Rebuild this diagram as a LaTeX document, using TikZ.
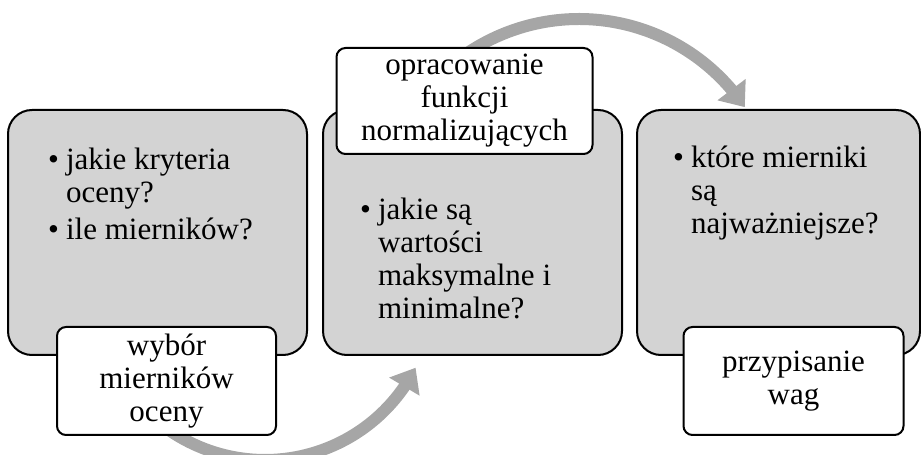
\documentclass[tikz,border=0pt]{standalone}
\usepackage{fontspec}
\setmainfont{Liberation Serif}
\usetikzlibrary{arrows.meta,bending,positioning,calc,backgrounds}
\definecolor{StageFill}{HTML}{D3D3D3}
\definecolor{LoopGray}{HTML}{A6A6A6}
\begin{document}
\begin{tikzpicture}[x=1pt,y=1pt,
    node distance=16pt,
    stagebox/.style={draw=black,line width=2pt,rounded corners=24pt,fill=StageFill,
      minimum width=299pt,minimum height=245pt,inner sep=0pt,outer sep=0pt},
    labelbox/.style={draw=black,line width=2pt,rounded corners=9pt,fill=white,
      minimum height=108pt,align=center,inner sep=0pt,outer sep=0pt,
      font=\fontsize{31}{33}\selectfont},
    bullets/.style={anchor=base west,inner sep=0pt,font=\fontsize{31}{33}\selectfont},
    loop arrow/.style={-{Triangle[width=34pt,length=22pt]},line width=12pt,draw=LoopGray}
  ]
  \useasboundingbox (0,0) rectangle (921,455);
  % three stages
  \node[stagebox] (wybor) at (157.5,222.5) {};
  \node[stagebox,right=16pt of wybor] (normy) {};
  \node[stagebox,minimum width=283pt,right=15pt of normy] (wagi) {};
  % questions inside the stages
  \node[bullets] (wyborpyt) at ($(wybor.north west)+(40,-60)$)
    {\begin{tabular}[t]{@{}l@{\hspace{7pt}}l@{}}\textbullet & jakie kryteria\\ & oceny?\\[4pt]
     \textbullet & ile mierników?\end{tabular}};
  \node[bullets] (normypyt) at ($(normy.north west)+(37,-110)$)
    {\begin{tabular}[t]{@{}l@{\hspace{7pt}}l@{}}\textbullet & jakie są\\ & wartości\\
     & maksymalne i\\ & minimalne?\end{tabular}};
  \node[bullets] (wagipyt) at ($(wagi.north west)+(36,-58)$)
    {\begin{tabular}[t]{@{}l@{\hspace{7pt}}l@{}}\textbullet & które mierniki\\ & są\\
     & najważniejsze?\end{tabular}};
  % stage labels
  \node[labelbox,minimum width=219pt,anchor=north] (wyborlab) at ($(wybor.south)+(9,28)$)
    {wybór\\mierników\\oceny};
  \node[labelbox,minimum width=256pt,minimum height=106pt,anchor=south] (normylab)
    at ($(normy.north)+(-8,-44)$) {opracowanie\\funkcji\\normalizujących};
  \node[labelbox,minimum width=220pt,anchor=north] (wagilab) at ($(wagi.south)+(15,28)$)
    {przypisanie\\wag};
  % circular arrows behind the boxes
  \begin{scope}[on background layer]
    \coordinate (gora) at (579,236);
    \coordinate (dol) at (265,164);
    \draw[loop arrow] ([shift={(130:200)}]gora) arc[start angle=130,end angle=34,radius=200];
    \draw[loop arrow] ([shift={(230:169)}]dol) arc[start angle=230,end angle=333,radius=169];
  \end{scope}
\end{tikzpicture}
\end{document}
